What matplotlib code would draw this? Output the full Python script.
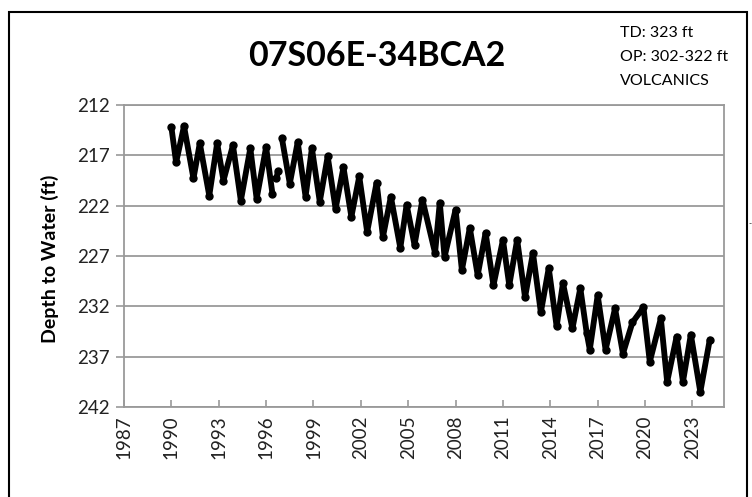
import numpy as np
import matplotlib
matplotlib.use("Agg")
import matplotlib.pyplot as plt
from matplotlib.patches import Rectangle

# Decimal year and depth to water (ft) (seasonal highs/lows)
years = [1990.0, 1990.3, 1990.8, 1991.4, 1991.8, 1992.4, 1992.9, 1993.3, 1993.9, 1994.4,
         1995.0, 1995.4, 1996.0, 1996.4, np.nan, 1996.65, 1996.75, np.nan,
         1997.0, 1997.5, 1998.0, 1998.5, 1998.9, 1999.4, 1999.9, 2000.4,
         2000.9, 2001.4, 2001.9, 2002.4, 2003.0, 2003.4, 2003.9, 2004.5, 2004.9, 2005.4,
         2005.9, 2006.7, 2007.0, 2007.3, 2008.0, 2008.4, 2008.9, 2009.4, 2009.9, 2010.4,
         2011.0, 2011.4, 2011.9, 2012.4, 2012.9, 2013.4, 2013.9, 2014.4, 2014.8, 2015.4,
         2015.9, 2016.3, 2016.5, 2017.0, 2017.5, 2018.1, 2018.6, 2019.2, 2019.9, 2020.3,
         2021.0, 2021.4, 2022.0, 2022.4, 2022.9, 2023.5, 2024.1]
depth = [214.2, 217.7, 214.1, 219.3, 215.8, 221.0, 215.8, 219.5, 216.0, 221.5,
         216.3, 221.3, 216.2, 220.8, np.nan, 219.3, 218.6, np.nan,
         215.3, 219.8, 215.7, 221.1, 216.3, 221.6, 217.1, 222.3,
         218.2, 223.1, 219.1, 224.6, 219.7, 225.1, 221.1, 226.2, 221.9, 225.9,
         221.4, 226.7, 221.7, 227.1, 222.4, 228.4, 224.2, 228.9, 224.7, 229.9,
         225.4, 229.9, 225.4, 231.1, 226.7, 232.6, 228.2, 234.0, 229.7, 234.2,
         230.2, 234.6, 236.3, 230.9, 236.3, 232.2, 236.7, 233.6, 232.1, 237.5,
         233.2, 239.5, 235.0, 239.5, 234.8, 240.5, 235.3]

x_ticks = list(range(1987, 2024, 3))
y_ticks = [212, 217, 222, 227, 232, 237, 242]

title = "07S06E-34BCA2"
info_lines = ["TD: 323 ft", "OP: 302-322 ft", "VOLCANICS"]
ylabel = "Depth to Water (ft)"

plt.rcParams['font.family'] = ['Lato', 'DejaVu Sans']

W, H = 752, 497
fig = plt.figure(figsize=(W / 100, H / 100), dpi=100)
ax = fig.add_axes([124 / W, 1 - 407 / H, 600 / W, 302 / H])

ax.plot(years, depth, color="black", lw=4.2, marker="o", ms=5,
        solid_joinstyle="round", solid_capstyle="round")

ax.set_xlim(1987, 2025)
ax.set_ylim(242, 212)
ax.set_xticks(x_ticks)
ax.set_xticklabels([str(t) for t in x_ticks], rotation=90, fontsize=13.5, color="#222222")
ax.set_yticks(y_ticks)
ax.set_yticklabels([str(t) for t in y_ticks], fontsize=13.5, color="#222222")
ax.yaxis.grid(True, color="#9a9a9a", lw=1.3)
ax.set_axisbelow(True)
for s in ax.spines.values():
    s.set_color("#9a9a9a")
    s.set_linewidth(1.3)
ax.tick_params(axis="x", direction="in", length=5, color="#9a9a9a", width=1.2, pad=6)
ax.tick_params(axis="y", direction="out", length=6, color="#9a9a9a", width=1.2, pad=4)

fig.text(50 / W, 1 - 259 / H, ylabel, rotation=90, fontsize=14, fontweight="bold",
         ha="center", va="center")

fig.text(377 / W, 1 - 56 / H, title, fontsize=24.5, fontweight="bold",
         ha="center", va="center")
for i, line in enumerate(info_lines):
    fig.text(620 / W, 1 - (33 + 24 * i) / H, line, fontsize=11.5,
             ha="left", va="center")

fig.patches.append(Rectangle((9 / W, -0.05), (747 - 9) / W, 1.05 - 12 / H,
                             transform=fig.transFigure, fill=False,
                             edgecolor="black", lw=1.5))
fig.text(750 / W, 1 - 224 / H, "-", fontsize=6, ha="center", va="center")

fig.savefig("out.png", dpi=100)
